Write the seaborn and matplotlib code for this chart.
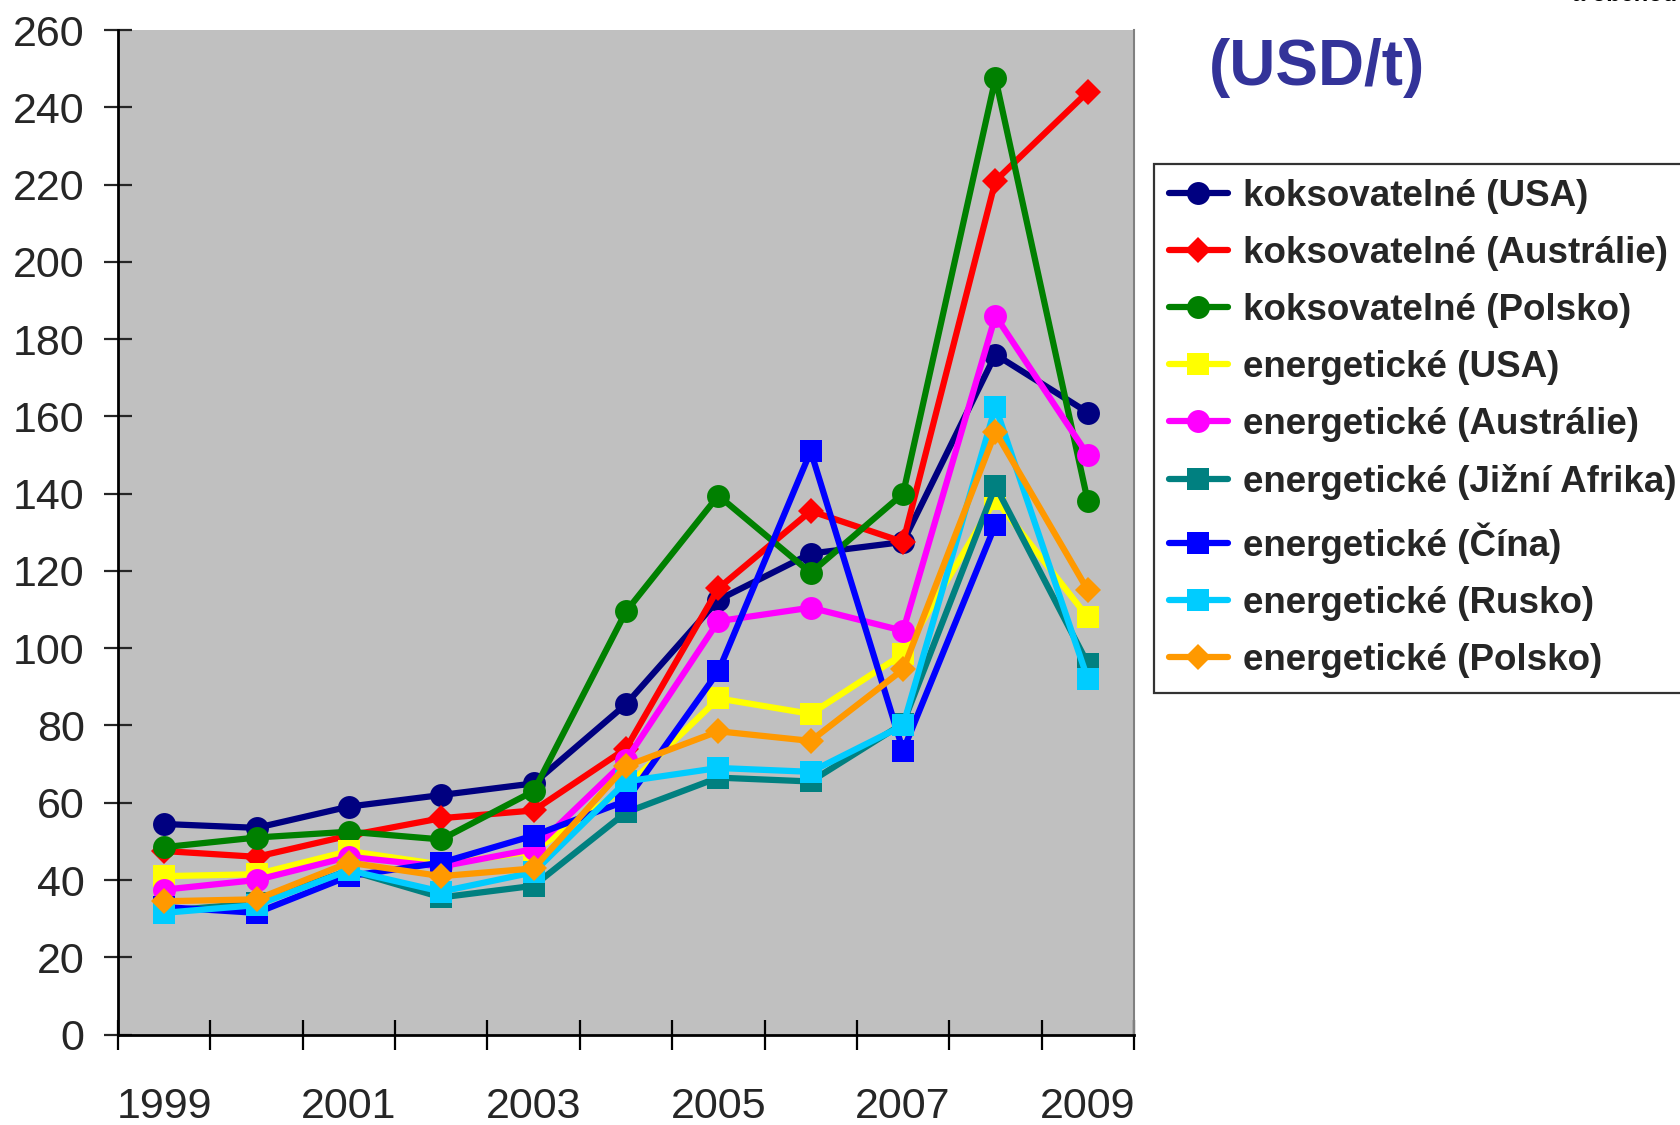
import numpy as np
import pandas as pd
import matplotlib
matplotlib.use("Agg")
import matplotlib.pyplot as plt
from matplotlib.ticker import FixedLocator, NullFormatter
import seaborn as sns

# -----------------------------
# DATA (USD/t)
# -----------------------------
years = [1999, 2000, 2001, 2002, 2003, 2004, 2005, 2006, 2007, 2008, 2009]
year_labels = ["1999", "2001", "2003", "2005", "2007", "2009"]

koks_usa = [54.5, 53.5, 59, 62, 65, 85.5, 112.5, 124.5, 127.5, 176, 161]
koks_aus = [47.5, 46, 51.5, 56, 58, 74, 115.5, 135.5, 127.5, 221, 244]
koks_pol = [48.5, 51, 52.5, 50.5, 63, 109.5, 139.5, 119.5, 140, 247.5, 138]
en_usa = [41, 41.5, 47.5, 44, 47.5, 64, 87, 83, 98.5, 138.5, 108]
en_aus = [37.5, 40, 46, 43.5, 48, 71, 107, 110.5, 104.5, 186, 150]
en_jar = [32, 34, 42.5, 35.5, 38.5, 57.5, 66.5, 65.5, 80.5, 142, 96]
en_cina = [33, 31.5, 41, 44.5, 51.5, 60.5, 94, 151, 73.5, 132, np.nan]
en_rus = [31.5, 33.5, 42.5, 37, 42, 65.5, 69, 68, 80, 162.5, 92]
en_pol = [34.5, 35, 44.5, 41, 43, 69.5, 78.5, 76, 94.5, 156, 115]

labels = [
    "koksovatelné (USA)",
    "koksovatelné (Austrálie)",
    "koksovatelné (Polsko)",
    "energetické (USA)",
    "energetické (Austrálie)",
    "energetické (Jižní Afrika)",
    "energetické (Čína)",
    "energetické (Rusko)",
    "energetické (Polsko)",
]
series = [koks_usa, koks_aus, koks_pol, en_usa, en_aus, en_jar, en_cina, en_rus, en_pol]
colors = ["#000080", "#FF0000", "#008000", "#FFFF00", "#FF00FF",
          "#008080", "#0000FF", "#00CCFF", "#FF9900"]
markers = ["o", "D", "o", "s", "o", "s", "s", "s", "D"]

# -----------------------------
# STYLE
# -----------------------------
sns.set_style("ticks")
fonts = ["Liberation Sans", "DejaVu Sans"]
plt.rcParams["font.family"] = fonts

fig = plt.figure(figsize=(16.81, 11.25), dpi=100)
ax = fig.add_axes([0.0702, 0.0804, 0.6044, 0.8929])
ax.set_facecolor("#C0C0C0")

# -----------------------------
# LINES
# -----------------------------
for vals, lab, col, mk in zip(series, labels, colors, markers):
    df = pd.DataFrame({"year": years, "value": vals}).dropna()
    ms = 13.5 if mk == "D" else 16.5
    sns.lineplot(data=df, x="year", y="value", ax=ax, color=col, label=lab,
                 marker=mk, markersize=ms, markeredgewidth=0, linewidth=4.5,
                 legend=False)

# -----------------------------
# AXES
# -----------------------------
ax.set_xlim(1998.5, 2009.5)
ax.set_ylim(0, 260)
ax.set_yticks(np.arange(0, 261, 20))
ax.set_xticks([int(y) for y in year_labels])
ax.set_xticklabels(year_labels)
ax.xaxis.set_minor_locator(FixedLocator(np.arange(1998.5, 2010, 1.0)))
ax.xaxis.set_minor_formatter(NullFormatter())
ax.tick_params(axis="x", which="major", length=0, pad=38, labelsize=31)
ax.tick_params(axis="x", which="minor", direction="inout", length=21, width=1.6, color="black")
ax.tick_params(axis="y", direction="inout", length=20, width=1.6, pad=14, labelsize=31)
ax.set_xlabel("")
ax.set_ylabel("")

for s in ["left", "bottom"]:
    ax.spines[s].set_linewidth(2)
    ax.spines[s].set_color("black")
ax.spines["top"].set_visible(False)
ax.spines["right"].set_color("#808080")
ax.spines["right"].set_linewidth(1.5)

# -----------------------------
# LEGEND + TITLE
# -----------------------------
handles, _ = ax.get_legend_handles_labels()
leg = fig.legend(handles, labels, loc="upper left",
                 bbox_to_anchor=(1154 / 1681, 1 - 164 / 1125),
                 prop={"family": fonts, "weight": "bold", "size": 26.5},
                 frameon=True, fancybox=False, edgecolor="black",
                 handlelength=1.6, handletextpad=0.42, labelspacing=0.6,
                 borderpad=0.4, borderaxespad=0)
leg.get_frame().set_linewidth(1.6)

fig.text(1209 / 1681, 1 - 68 / 1125, "(USD/t)", color="#333399", fontsize=46,
         fontweight="bold", va="center", ha="left")
fig.text(1572 / 1681, 1 - 6 / 1125, "a obchodu", color="black", fontsize=17,
         fontweight="bold", va="bottom", ha="left")

fig.savefig("out.png", dpi=100)
